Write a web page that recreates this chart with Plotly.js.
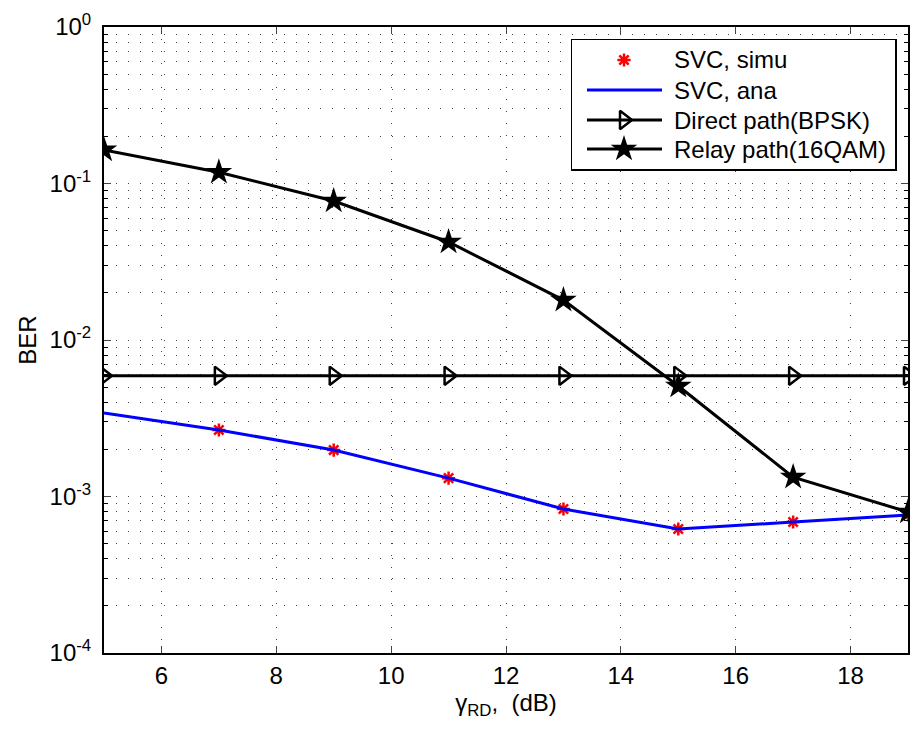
<!DOCTYPE html>
<html>
<head>
<meta charset="utf-8">
<script src="https://cdn.plot.ly/plotly-3.0.1.min.js"></script>
<style>html,body{margin:0;padding:0;background:#fff;}#chart{width:913px;height:732px;}</style>
</head>
<body>
<div id="chart"></div>
<script>
// Data
const snr = [5, 7, 9, 11, 13, 15, 17, 19];
const simuX = [7, 9, 11, 13, 15, 17, 19];
const svcSimu = [0.00266, 0.00198, 0.00131, 0.000832, 0.00062, 0.000687, 0.000762];
const svcAna = [0.00342, 0.00266, 0.00198, 0.00131, 0.000832, 0.00062, 0.000687, 0.000762];
const directPath = [0.0059, 0.0059, 0.0059, 0.0059, 0.0059, 0.0059, 0.0059, 0.0059];
const relayPath = [0.164, 0.118, 0.0773, 0.0423, 0.018, 0.00508, 0.00133, 0.000796];
const seriesNames = ['SVC, simu', 'SVC, ana', 'Direct path(BPSK)', 'Relay path(16QAM)'];
const xTicks = [6, 8, 10, 12, 14, 16, 18];
const yTickVals = [1e-4, 1e-3, 1e-2, 1e-1, 1];
const yTickText = ['10<sup>-4</sup>', '10<sup>-3</sup>', '10<sup>-2</sup>', '10<sup>-1</sup>', '10<sup>0</sup>'];

const FONT = 'Liberation Sans, Arial, Helvetica, sans-serif';
const FS = 24;

// styles
const simuMarker = {symbol: 'asterisk-open', size: 11, color: 'red', line: {color: 'red', width: 2.5}};
const anaLine = {color: 'blue', width: 3};
const blackLine = {color: 'black', width: 3};
const triMarker = {symbol: 'triangle-right-open', size: 16, color: 'black', line: {color: 'black', width: 2.5}};
const starMarker = {symbol: 'star', size: 20, color: 'black', line: {color: 'black', width: 0}};

const traces = [
  {x: simuX, y: svcSimu, name: seriesNames[0], mode: 'markers', type: 'scatter', marker: simuMarker},
  {x: snr, y: svcAna, name: seriesNames[1], mode: 'lines', type: 'scatter', line: anaLine},
  {x: snr, y: directPath, name: seriesNames[2], mode: 'lines+markers', type: 'scatter', line: blackLine, marker: triMarker},
  {x: snr, y: relayPath, name: seriesNames[3], mode: 'lines+markers', type: 'scatter', line: blackLine, marker: starMarker}
];

// Custom legend drawn in its own small subplot (pixel-like units inside the legend box)
const LG = {w: 323, h: 129, rows: [20, 50, 80, 109], x0: 15, x1: 90, xm: 52, xt: 100};
const legendStyles = [
  {mode: 'markers', marker: simuMarker},
  {mode: 'lines', line: anaLine},
  {mode: 'lines+markers', line: blackLine, marker: triMarker},
  {mode: 'lines+markers', line: blackLine, marker: starMarker}
];
const annotations = [];
legendStyles.forEach((st, i) => {
  const yy = LG.rows[i];
  if (st.line) {
    traces.push({x: [LG.x0, LG.x1], y: [yy, yy], mode: 'lines', line: st.line, xaxis: 'x2', yaxis: 'y2',
      showlegend: false, hoverinfo: 'skip', cliponaxis: false});
  }
  if (st.marker) {
    traces.push({x: [LG.xm], y: [yy], mode: 'markers', marker: st.marker, xaxis: 'x2', yaxis: 'y2',
      showlegend: false, hoverinfo: 'skip', cliponaxis: false});
  }
  annotations.push({x: LG.xt, y: yy, xref: 'x2', yref: 'y2', text: seriesNames[i], showarrow: false,
    xanchor: 'left', yanchor: 'middle', font: {family: FONT, size: FS, color: 'black'}});
});

const layout = {
  width: 913, height: 732,
  margin: {l: 104, r: 5, t: 27, b: 79},
  paper_bgcolor: 'white', plot_bgcolor: 'white',
  font: {family: FONT, size: FS, color: 'black'},
  showlegend: false,
  annotations: annotations,
  xaxis: {
    domain: [0, 1],
    range: [5, 19], tickvals: xTicks, ticks: 'inside', ticklen: 7, tickwidth: 1,
    showline: true, linecolor: 'black', linewidth: 2, mirror: 'ticks',
    showgrid: true, gridcolor: '#444', gridwidth: 1, griddash: '1px,11px',
    zeroline: false, tickfont: {size: FS},
    title: {text: 'γ<sub>RD</sub>,  (dB)', font: {size: FS}, standoff: 4}
  },
  yaxis: {
    domain: [0, 1],
    type: 'log', range: [-4, 0], tickvals: yTickVals, ticktext: yTickText,
    ticks: 'inside', ticklen: 7, tickwidth: 1, ticklabelstandoff: 6,
    showline: true, linecolor: 'black', linewidth: 2, mirror: 'ticks',
    showgrid: true, gridcolor: '#444', gridwidth: 1, griddash: '1px,11px',
    zeroline: false, tickfont: {size: FS},
    minor: {dtick: 'D1', showgrid: true, gridcolor: '#444', gridwidth: 1, griddash: '1px,11px',
            ticks: 'inside', ticklen: 4, tickcolor: 'black'},
    title: {text: 'BER', font: {size: FS}, standoff: 6}
  },
  xaxis2: {
    domain: [(572 - 104) / 804, (895 - 104) / 804], anchor: 'y2', range: [0, LG.w],
    showgrid: false, zeroline: false, showticklabels: false, ticks: '',
    showline: true, linecolor: 'black', linewidth: 1.5, mirror: true, fixedrange: true
  },
  yaxis2: {
    domain: [(653 - 169) / 626, (653 - 40) / 626], anchor: 'x2', range: [LG.h, 0],
    showgrid: false, zeroline: false, showticklabels: false, ticks: '',
    showline: true, linecolor: 'black', linewidth: 1.5, mirror: true, fixedrange: true
  }
};

Plotly.newPlot('chart', traces, layout, {displayModeBar: false, staticPlot: true});
</script>
</body>
</html>
